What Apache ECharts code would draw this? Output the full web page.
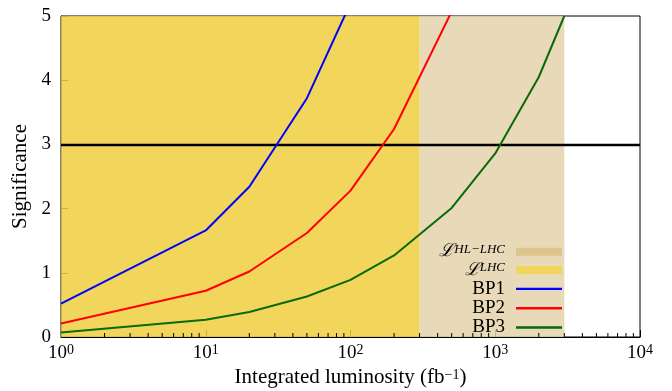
<!DOCTYPE html>
<html>
<head>
<meta charset="utf-8">
<script src="https://cdn.jsdelivr.net/npm/echarts@6/dist/echarts.min.js"></script>
<style>
  html, body { margin: 0; padding: 0; background: #fff; }
  #chart { width: 672px; height: 391px; }
</style>
</head>
<body>
<div id="chart"></div>
<script>
// luminosity points (fb^-1)
const lumi = [1, 10, 20, 50, 100, 200, 500, 1000, 2000, 3000]
const bp1 = [0.52, 1.66, 2.34, 3.72, 5.2]
const bp2 = [0.21, 0.72, 1.02, 1.62, 2.28, 3.24, 5.07]
const bp3 = [0.07, 0.27, 0.39, 0.63, 0.89, 1.27, 2.01, 2.86, 4.05, 5.0]
const lhcRange = [1, 300]
const hllhcRange = [300, 3000]
const threshold = 3
const minorTicks = [2, 3, 4, 5, 6, 7, 8, 9, 20, 30, 40, 50, 60, 70, 80, 90,
  200, 300, 400, 500, 600, 700, 800, 900, 2000, 3000, 4000, 5000, 6000, 7000, 8000, 9000]

const font = 'Liberation Serif'
const pair = (ys) => ys.map((y, i) => [lumi[i], y])
const lineIcon = 'path://M0,0H46V2.4H0Z'

const chart = echarts.init(document.getElementById('chart'))

const lineSeries = (name, ys, color) => ({
  name,
  type: 'line',
  data: pair(ys),
  symbol: 'none',
  color,
  lineStyle: {width: 2, color},
  z: 5
})

chart.setOption({
  animation: false,
  grid: {
    left: 61, right: 32, top: 16, bottom: 54,
    show: true, borderColor: '#000', borderWidth: 1,
    outerBoundsMode: 'none'
  },
  legend: {
    orient: 'vertical',
    right: 110,
    bottom: 54,
    align: 'right',
    padding: 0,
    itemWidth: 46,
    itemHeight: 8,
    itemGap: 0.3,
    selectedMode: false,
    data: [
      {name: 'HL', icon: 'rect'},
      {name: 'LHC', icon: 'rect'},
      {name: 'BP1', icon: lineIcon},
      {name: 'BP2', icon: lineIcon},
      {name: 'BP3', icon: lineIcon}
    ],
    formatter: (n) => {
      if (n === 'HL') return '{l|ℒ}{s|HL−LHC}'
      if (n === 'LHC') return '{l|ℒ}{s|LHC}'
      return '{t|' + n + '}'
    },
    textStyle: {
      fontFamily: font, fontSize: 19, color: '#000', lineHeight: 18,
      padding: [0, 6, 0, 0],
      rich: {
        t: {fontFamily: font, fontSize: 19, color: '#000', lineHeight: 18},
        l: {fontFamily: 'DejaVu Serif', fontStyle: 'italic', fontSize: 18, color: '#000', lineHeight: 18},
        s: {fontFamily: font, fontStyle: 'italic', fontSize: 13, color: '#000', lineHeight: 13, verticalAlign: 'top'}
      }
    }
  },
  xAxis: {
    type: 'log',
    logBase: 10,
    min: 1,
    max: 10000,
    name: '{m|Integrated luminosity (fb}{s|−1}{m|)}',
    nameLocation: 'middle',
    nameGap: 27,
    nameTextStyle: {
      fontFamily: font, fontSize: 21, color: '#000',
      rich: {
        m: {fontFamily: font, fontSize: 21, color: '#000', lineHeight: 20},
        s: {fontFamily: font, fontSize: 14, color: '#000', lineHeight: 14, verticalAlign: 'top'}
      }
    },
    axisLine: {lineStyle: {color: '#000', width: 1}},
    axisTick: {inside: true, length: 7, lineStyle: {color: '#000'}},
    splitLine: {show: false},
    axisLabel: {
      margin: 6,
      formatter: (v) => '{b|10}{s|' + Math.round(Math.log10(v)) + '}',
      rich: {
        b: {fontFamily: font, fontSize: 19, color: '#000', lineHeight: 20},
        s: {fontFamily: font, fontSize: 14, color: '#000', lineHeight: 14, verticalAlign: 'top'}
      }
    }
  },
  yAxis: {
    type: 'value',
    min: 0,
    max: 5,
    interval: 1,
    name: 'Significance',
    nameLocation: 'middle',
    nameGap: 26,
    nameTextStyle: {fontFamily: font, fontSize: 21, color: '#000'},
    axisLine: {show: true, lineStyle: {color: '#000', width: 1}},
    axisTick: {show: true, inside: true, length: 7, lineStyle: {color: '#000'}},
    splitLine: {show: false},
    axisLabel: {margin: 10, fontFamily: font, fontSize: 19, color: '#000'}
  },
  series: [
    {
      type: 'custom',
      z: 1,
      silent: true,
      data: minorTicks.map(v => [v, 0]),
      renderItem: (params, api) => {
        const p = api.coord([api.value(0), 0])
        return {
          type: 'line',
          shape: {x1: p[0], y1: p[1], x2: p[0], y2: p[1] - 4},
          style: {stroke: '#000', lineWidth: 1}
        }
      }
    },
    {
      name: 'HL',
      type: 'line',
      data: [],
      color: '#dcc48c',
      z: 2,
      markArea: {
        silent: true,
        itemStyle: {color: 'rgba(228,211,171,0.85)'},
        data: [[{xAxis: hllhcRange[0]}, {xAxis: hllhcRange[1]}]]
      }
    },
    {
      name: 'LHC',
      type: 'line',
      data: [],
      color: '#f2d65c',
      z: 2,
      markArea: {
        silent: true,
        itemStyle: {color: 'rgba(240,207,63,0.85)'},
        data: [[{xAxis: lhcRange[0]}, {xAxis: lhcRange[1]}]]
      },
      markLine: {
        silent: true,
        symbol: 'none',
        label: {show: false},
        lineStyle: {color: '#000', width: 2.4, type: 'solid'},
        data: [{yAxis: threshold}]
      }
    },
    lineSeries('BP1', bp1, '#0000ff'),
    lineSeries('BP2', bp2, '#ff0000'),
    lineSeries('BP3', bp3, '#086a08')
  ]
})
</script>
</body>
</html>
